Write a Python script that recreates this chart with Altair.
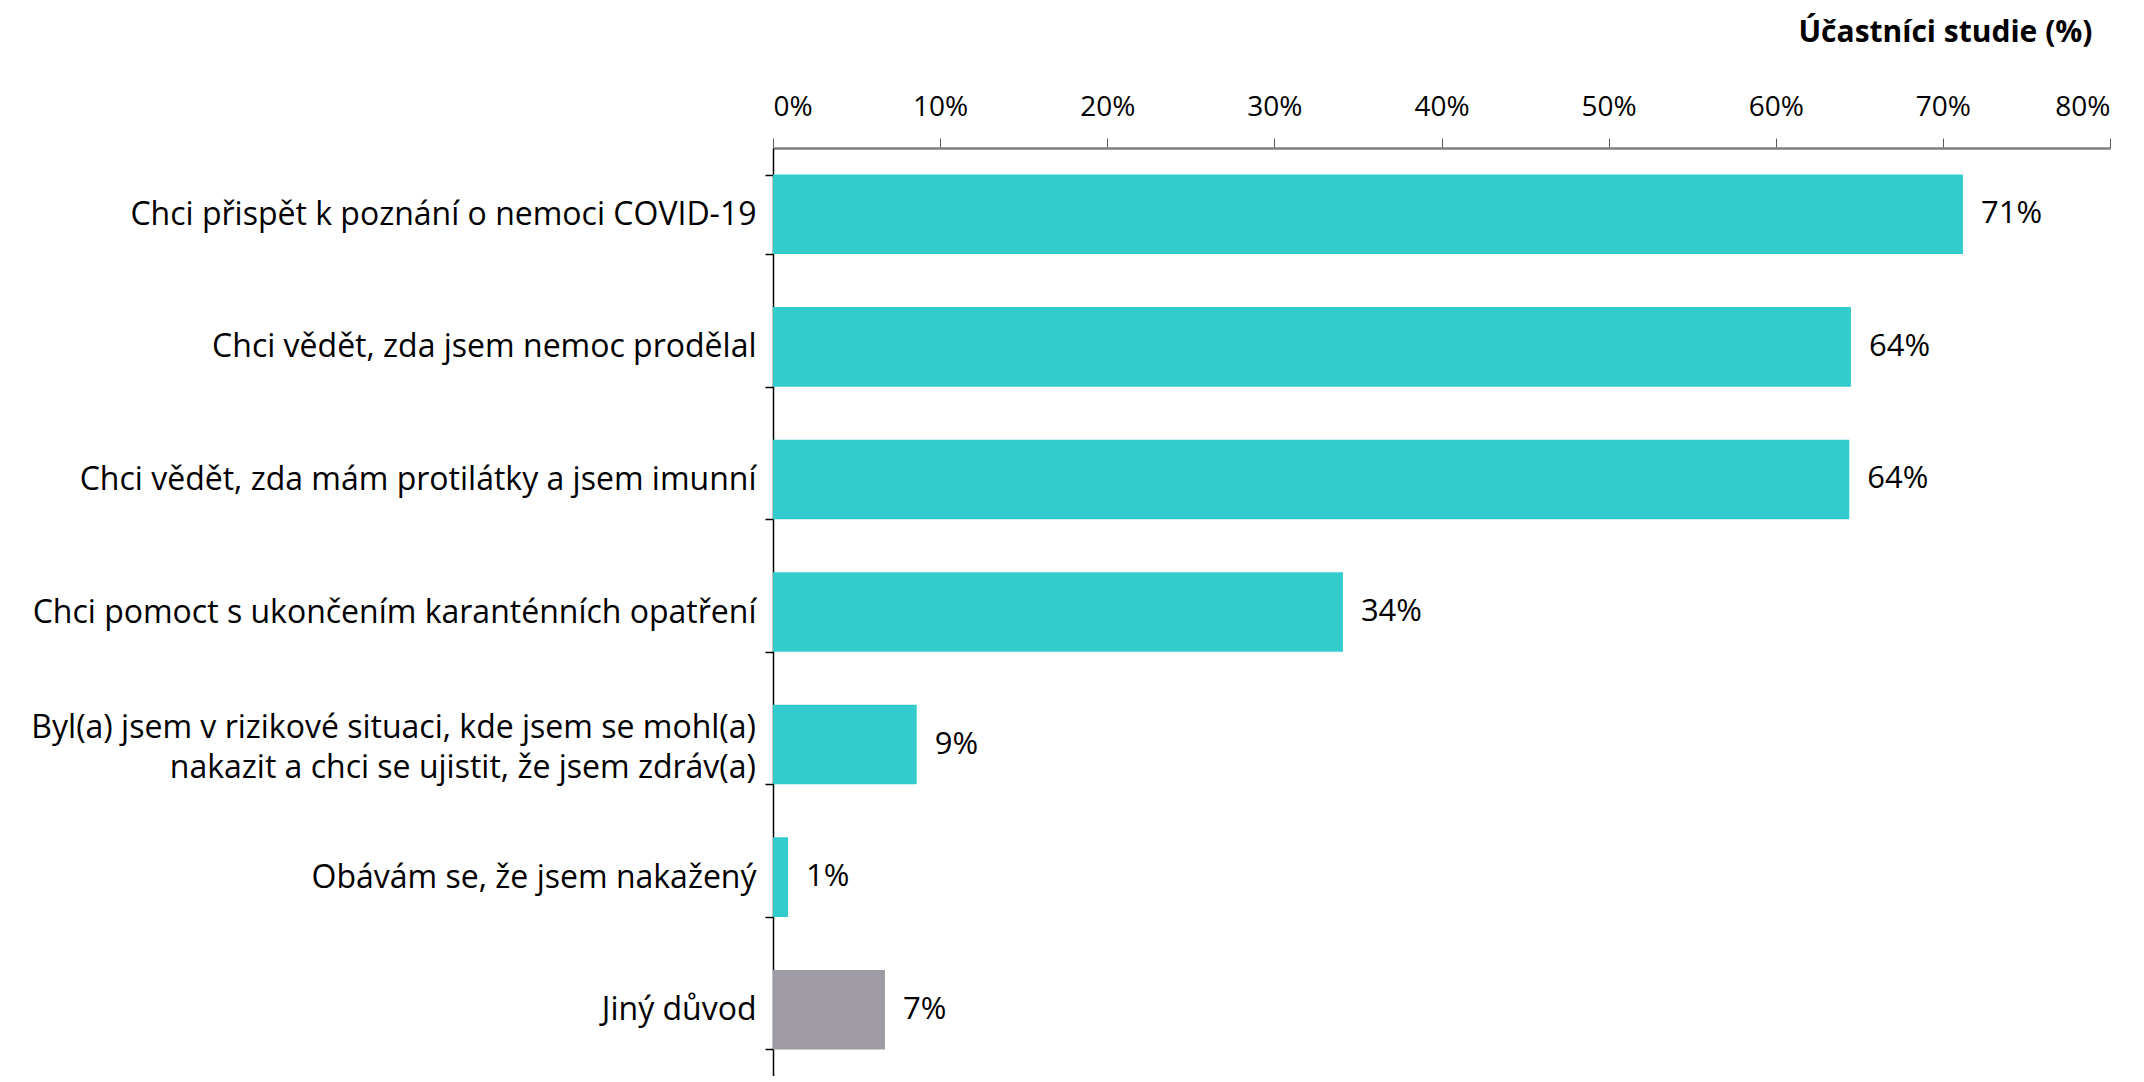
import altair as alt
import pandas as pd

categories = [
    "Chci přispět k poznání o nemoci COVID-19",
    "Chci vědět, zda jsem nemoc prodělal",
    "Chci vědět, zda mám protilátky a jsem imunní",
    "Chci pomoct s ukončením karanténních opatření",
    "Byl(a) jsem v rizikové situaci, kde jsem se mohl(a)|nakazit a chci se ujistit, že jsem zdráv(a)",
    "Obávám se, že jsem nakažený",
    "Jiný důvod",
]
values = [71.2, 64.5, 64.4, 34.1, 8.6, 0.9, 6.7]
labels = ["71%", "64%", "64%", "34%", "9%", "1%", "7%"]
groups = ["hlavní", "hlavní", "hlavní", "hlavní", "hlavní", "hlavní", "jiný"]
x_ticks = [0, 10, 20, 30, 40, 50, 60, 70, 80]

df = pd.DataFrame({"cat": categories, "value": values, "label": labels, "group": groups})

FONT = "Open Sans"
TEAL = "#33CCCC"
GRAY = "#9E9BA4"

y_enc = alt.Y(
    "cat:N",
    sort=categories,
    scale=alt.Scale(paddingInner=0.4, paddingOuter=0.2),
    axis=alt.Axis(
        title=None,
        domainColor="#000000",
        domainWidth=1.5,
        tickColor="#000000",
        tickWidth=1.5,
        tickSize=8,
        tickBand="extent",
        labelPadding=9,
        labelFont=FONT,
        labelFontSize=32,
        labelColor="#000000",
        labelLimit=2000,
        labelExpr="indexof(datum.label, '|') >= 0 ? '' : datum.label",
    ),
)

x_enc = alt.X(
    "value:Q",
    scale=alt.Scale(domain=[0, 80], nice=False),
    axis=alt.Axis(
        orient="top",
        values=x_ticks,
        grid=False,
        labelExpr="datum.value + '%'",
        labelFont=FONT,
        labelFontSize=28,
        labelColor="#000000",
        labelPadding=17,
        domainColor="#7F7F7F",
        domainWidth=2.5,
        tickColor="#595959",
        tickWidth=1,
        tickSize=10,
        title="Účastníci studie (%)",
        titleFont=FONT,
        titleFontSize=30,
        titleFontWeight="bold",
        titleColor="#000000",
        titleAlign="right",
        titleBaseline="middle",
        titleAnchor="end",
        titleX=1319,
        titleY=-116,
    ),
)

base = alt.Chart(df).encode(y=y_enc)

bars = base.mark_bar().encode(
    x=x_enc,
    color=alt.Color(
        "group:N",
        scale=alt.Scale(domain=["hlavní", "jiný"], range=[TEAL, GRAY]),
        legend=None,
    ),
)

text = base.mark_text(
    align="left", baseline="middle", dx=18, font=FONT, fontSize=31, color="#000000"
).encode(x=alt.X("value:Q"), text="label:N")

# two-line category label, centred on its band
multi_label = (
    base.transform_filter("indexof(datum.cat, '|') >= 0")
    .mark_text(
        align="right",
        baseline="middle",
        lineBreak="|",
        lineHeight=40,
        dy=-17,
        font=FONT,
        fontSize=32,
        color="#000000",
    )
    .encode(x=alt.value(-17), text="cat:N")
)

chart = (
    alt.layer(bars, text, multi_label)
    .properties(
        width=1337,
        height=928,
        autosize=alt.AutoSizeParams(type="none"),
        padding={"left": 765, "top": 140, "right": 26, "bottom": 0},
    )
    .configure_view(strokeWidth=0)
)

chart.save("out.html", embed_options={"renderer": "svg", "actions": False})
